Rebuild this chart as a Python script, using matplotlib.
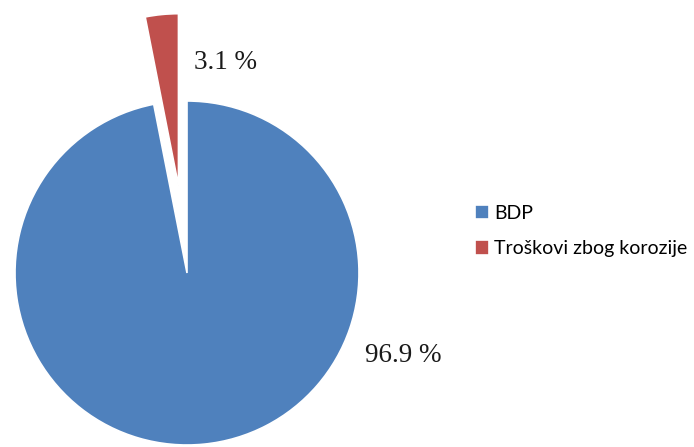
import matplotlib.pyplot as plt

labels = ['BDP', 'Troškovi zbog korozije']
values = [96.9, 3.1]
colors = ['#4F81BD', '#C0504D']
explode = [0, 0.51]

W, H = 694, 447
cx, cy, r = 187, 273, 172

fig = plt.figure(figsize=(W / 100, H / 100), dpi=100)
ax = fig.add_axes([0, 0, 1, 1])

# pie starts at 90 deg, going clockwise so red slice sits left of top
wedges, _ = ax.pie(values, colors=colors, explode=explode, startangle=90,
                   counterclock=False, radius=1,
                   wedgeprops=dict(edgecolor='white', linewidth=1.2))

ax.set_xlim(-cx / r, (W - cx) / r)
ax.set_ylim((cy - H) / r, cy / r)
ax.set_aspect('equal')
ax.axis('off')

def px(x, y):
    return (x - cx) / r, (cy - y) / r

ax.text(*px(226, 63), f'{values[1]} %', fontsize=19.5, family='Liberation Serif',
        ha='center', va='center', color='#1a1a1a')
ax.text(*px(403, 356), f'{values[0]} %', fontsize=19.5, family='Liberation Serif',
        ha='center', va='center', color='#1a1a1a')

fig.legend(wedges, labels, loc='center left', bbox_to_anchor=(457 / W, 1 - 231 / H),
           frameon=False, handlelength=0.75, handleheight=0.75, handletextpad=0.25,
           labelspacing=0.95, prop={'family': 'Lato', 'size': 14})

fig.savefig('out.png', dpi=100)
